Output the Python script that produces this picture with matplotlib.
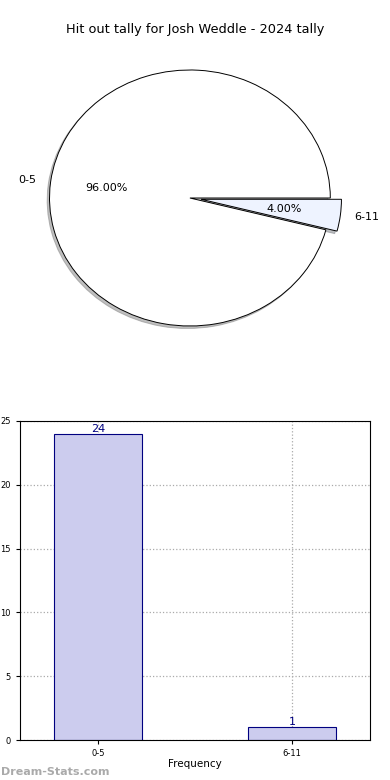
import matplotlib
matplotlib.use("Agg")
import matplotlib.pyplot as plt

# data
categories = ["0-5", "6-11"]
counts = [24, 1]
pie_colors = ["#ffffff", "#eef3ff"]
explode = [0, 0.08]

fig = plt.figure(figsize=(3.9, 7.8), dpi=100)

fig.text(0.5, 1 - 30 / 780, "Hit out tally for Josh Weddle - 2024 tally",
         ha="center", va="center", fontsize=9.3)

# pie on top, stretched into an ellipse like the original
ax1 = fig.add_axes([14.4 / 390, 1 - 358 / 780, 351 / 390, 320 / 780])
wedges, texts, autotexts = ax1.pie(counts, labels=categories, colors=pie_colors,
                                   explode=explode, autopct="%.2f%%",
                                   shadow=dict(ox=-0.012, oy=-0.014, shade=0.5),
                                   wedgeprops=dict(edgecolor="black", linewidth=0.7),
                                   textprops=dict(fontsize=8))
ax1.set_aspect("auto")
ax1.set_xlim(-1.25, 1.25)
ax1.set_ylim(-1.25, 1.25)

# bar chart below
ax2 = fig.add_axes([20 / 390, 40 / 780, 350 / 390, 319 / 780])
x = range(len(categories))
ax2.bar(x, counts, width=0.45, color="#ccccee", edgecolor="navy", linewidth=0.8,
        zorder=2)
for xi, c in zip(x, counts):
    ax2.text(xi, c, str(c), ha="center", va="bottom", color="navy", fontsize=8)
ax2.set_xticks(list(x))
ax2.set_xticklabels(categories)
ax2.set_xlim(-0.4, 1.4)
ax2.set_ylim(0, 25)
ax2.set_yticks([0, 5, 10, 15, 20, 25])
ax2.tick_params(labelsize=6, length=3)
ax2.grid(True, linestyle=":", color="#aaaaaa", linewidth=0.9)
for sp in ax2.spines.values():
    sp.set_zorder(4)
ax2.set_xlabel("Frequency", fontsize=7.5, labelpad=1)
# y label sits mostly off the left edge, as in the original
ax2.set_ylabel("Total Match Tally", fontsize=6.5, labelpad=2)
ax2.yaxis.set_label_coords(-0.058, 0.5)

fig.text(0.002, 8 / 780, "Dream-Stats.com", fontsize=8, color="#aaaaaa",
         ha="left", va="center", fontweight="bold")

fig.savefig("out.png", dpi=100)
